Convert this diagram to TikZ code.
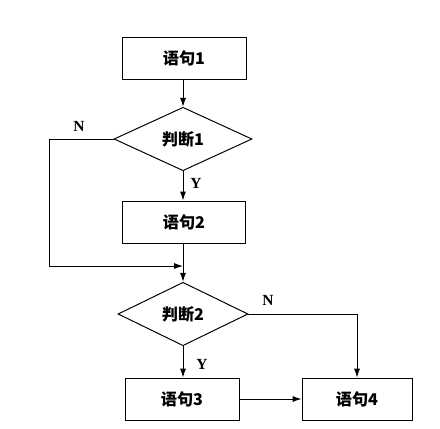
\documentclass[tikz,border=0pt]{standalone}
\usepackage{fontspec}
\usetikzlibrary{arrows.meta, positioning, shapes.geometric}
\newfontfamily\cjk{Noto Sans CJK SC}
\setmainfont{Liberation Serif}
\tikzset{
  stmt/.style={
    rectangle, draw=black, fill=white, line width=0.7pt,
    minimum width=3.1cm, minimum height=1.05cm,
    align=center, font=\cjk\bfseries\fontsize{11.5}{14}\selectfont
  },
  test/.style={
    diamond, draw=black, fill=white, line width=0.7pt,
    minimum width=3.45cm, minimum height=1.55cm, inner sep=1pt,
    align=center, font=\cjk\bfseries\fontsize{11.5}{14}\selectfont
  },
  yn/.style={font=\bfseries\fontsize{11}{13}\selectfont},
  arrow/.style={-{Latex[length=2.2mm,width=1.5mm]}, line width=0.7pt},
}
\begin{document}
\begin{tikzpicture}
  \useasboundingbox (0,0) rectangle (11,-10.7);

  \node[stmt] (s1) at (4.6,-1.45) {语句1};
  \node[test] (d1) at (4.575,-3.475) {判断1};
  \node[stmt, minimum width=3.08cm] (s2) at (4.6,-5.55) {语句2};
  \node[test, minimum width=3.25cm] (d2) at (4.575,-7.85) {判断2};
  \node[stmt, minimum width=2.85cm] (s3) at (4.55,-9.975) {语句3};
  \node[stmt, minimum width=2.75cm] (s4) at (8.925,-9.975) {语句4};

  \coordinate (turn) at (1.225,-6.65);
  \coordinate (join) at (4.575,-6.65);

  \draw[arrow] (s1.south -| d1.north) -- (d1.north);
  \draw[arrow] (d1.south) -- (d1.south |- s2.north);
  \draw[arrow] (d1.west) -| (turn) -- (join);
  \draw[arrow] (s2.south -| d2.north) -- (d2.north);
  \draw[arrow] (d2.south) -- (d2.south |- s3.north);
  \draw[arrow] (d2.east) -| (s4.north);
  \draw[arrow] (s3.east) -- (s4.west);

  \node[yn] (n1) at (1.975,-3.15) {N};
  \node[yn] (y1) at (4.9,-4.575) {Y};
  \node[yn] (n2) at (6.7,-7.5) {N};
  \node[yn] (y2) at (5.05,-9.1) {Y};
\end{tikzpicture}
\end{document}
